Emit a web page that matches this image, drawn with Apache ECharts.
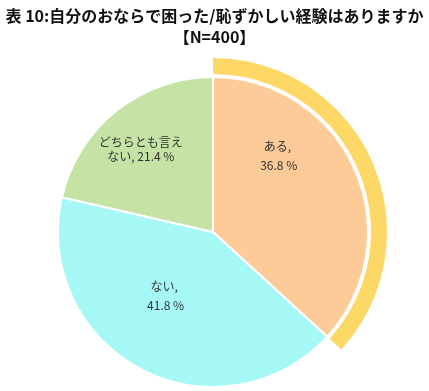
<!DOCTYPE html>
<html><head><meta charset="utf-8">
<script src="https://cdn.jsdelivr.net/npm/echarts@6/dist/echarts.min.js"></script>
<style>html,body{margin:0;padding:0;background:#fff}#c{width:429px;height:391px}</style>
</head><body><div id="c"></div>
<script>
const titleText = '表 10:自分のおならで困った/恥ずかしい経験はありますか';
const subText = '【N=400】';
const categories = ['ある', 'ない', 'どちらとも言え\nない'];
const values = [36.8, 41.8, 21.4];
const colors = ['#FDCB97', '#A5F8F6', '#C4E3A5'];
const ringColor = '#FDD867';
const labelShift = [[-8, -44], [-10, -7], [-22, -20]];
const lineHeights = [19, 19, 14];

const chart = echarts.init(document.getElementById('c'), null, {renderer: 'canvas'});
chart.setOption({
  animation: false,
  title: {
    text: titleText + '\n' + subText,
    left: 'center', top: 0,
    textStyle: {fontFamily: 'Noto Sans CJK JP', fontWeight: 'bold', fontSize: 16, color: '#111', lineHeight: 21}
  },
  series: [
    {
      type: 'pie',
      center: [213, 232],
      radius: [0, 155],
      startAngle: 90,
      clockwise: true,
      silent: true,
      itemStyle: {borderColor: '#fff', borderWidth: 2},
      label: {
        show: true, position: 'inside',
        fontFamily: 'Noto Sans CJK JP', fontSize: 12, color: '#333',
        formatter: p => p.name + ', ' + (p.dataIndex === 2 ? '' : '\n') + p.value.toFixed(1) + ' %'
      },
      labelLayout: p => ({dx: labelShift[p.dataIndex][0], dy: labelShift[p.dataIndex][1]}),
      data: values.map((v, i) => ({
        name: categories[i], value: v,
        itemStyle: {color: colors[i]},
        label: {lineHeight: lineHeights[i]}
      }))
    },
    {
      type: 'pie',
      center: [213, 232],
      radius: [158, 174],
      startAngle: 90,
      clockwise: true,
      silent: true,
      label: {show: false},
      labelLine: {show: false},
      data: [
        {value: values[0], itemStyle: {color: ringColor}},
        {value: 100 - values[0], itemStyle: {color: 'rgba(0,0,0,0)'}}
      ]
    }
  ]
});
</script></body></html>
